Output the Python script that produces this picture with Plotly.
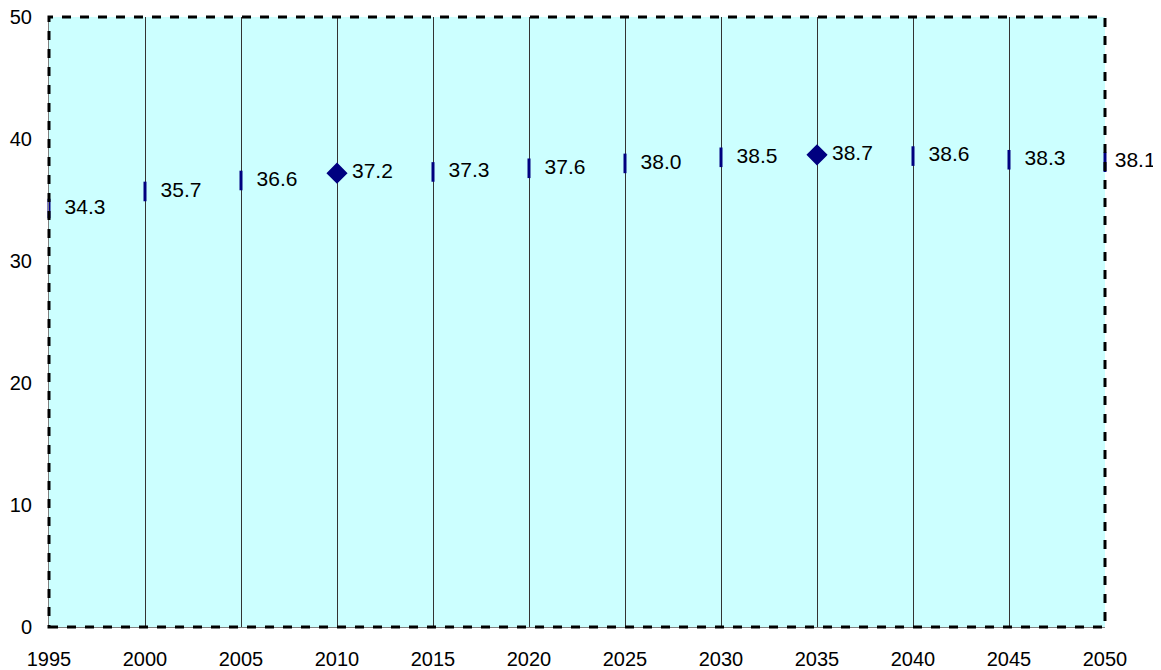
import plotly.graph_objects as go

years = [1995, 2000, 2005, 2010, 2015, 2020, 2025, 2030, 2035, 2040, 2045, 2050]
values = [34.3, 35.7, 36.6, 37.2, 37.3, 37.6, 38.0, 38.5, 38.7, 38.6, 38.3, 38.1]
labels = ["34.3", "35.7", "36.6", "37.2", "37.3", "37.6", "38.0", "38.5", "38.7", "38.6", "38.3", "38.1"]
diamond_years = [2010, 2035]

symbols = ["diamond" if y in diamond_years else "line-ns" for y in years]
sizes = [13 if y in diamond_years else 14 for y in years]
# last label sits closer to its marker, as in the original
texts = [" " + t for t in labels[:-1]] + [labels[-1]]

fig = go.Figure()
fig.add_trace(go.Scatter(
    x=years,
    y=values,
    mode="markers+text",
    text=texts,
    textposition="middle right",
    textfont=dict(family="Liberation Sans, Arial", size=21, color="#000000"),
    marker=dict(symbol=symbols, size=sizes, color="#000080", opacity=1,
                line=dict(color="#000080", width=3)),
    cliponaxis=False,
    showlegend=False,
))

# dashed frame of the plot area
fig.add_shape(type="rect", xref="paper", yref="paper", x0=0, y0=0, x1=1, y1=1,
              line=dict(color="#000000", width=3, dash="dash"), layer="above")

# the page body adds an 8px offset, so margins are set to compensate
fig.update_layout(
    width=1161, height=670,
    margin=dict(l=41, r=64, t=9, b=51),
    paper_bgcolor="#ffffff",
    plot_bgcolor="#ccffff",
    font=dict(family="Liberation Sans, Arial", size=20, color="#000000"),
    xaxis=dict(range=[1995, 2050], tickmode="linear", tick0=1995, dtick=5,
               showgrid=True, gridcolor="#333333", gridwidth=1,
               showline=True, linecolor="#808080", zeroline=False,
               ticks="outside", ticklen=14, tickcolor="rgba(0,0,0,0)",
               ticklabeloverflow="allow", automargin=False),
    yaxis=dict(range=[0, 50], tickmode="linear", tick0=0, dtick=10,
               showgrid=False, showline=True, linecolor="#808080",
               zeroline=False, ticks="outside", ticklen=12,
               tickcolor="rgba(0,0,0,0)", ticklabeloverflow="allow",
               automargin=False),
)

fig.write_html("out.html")
